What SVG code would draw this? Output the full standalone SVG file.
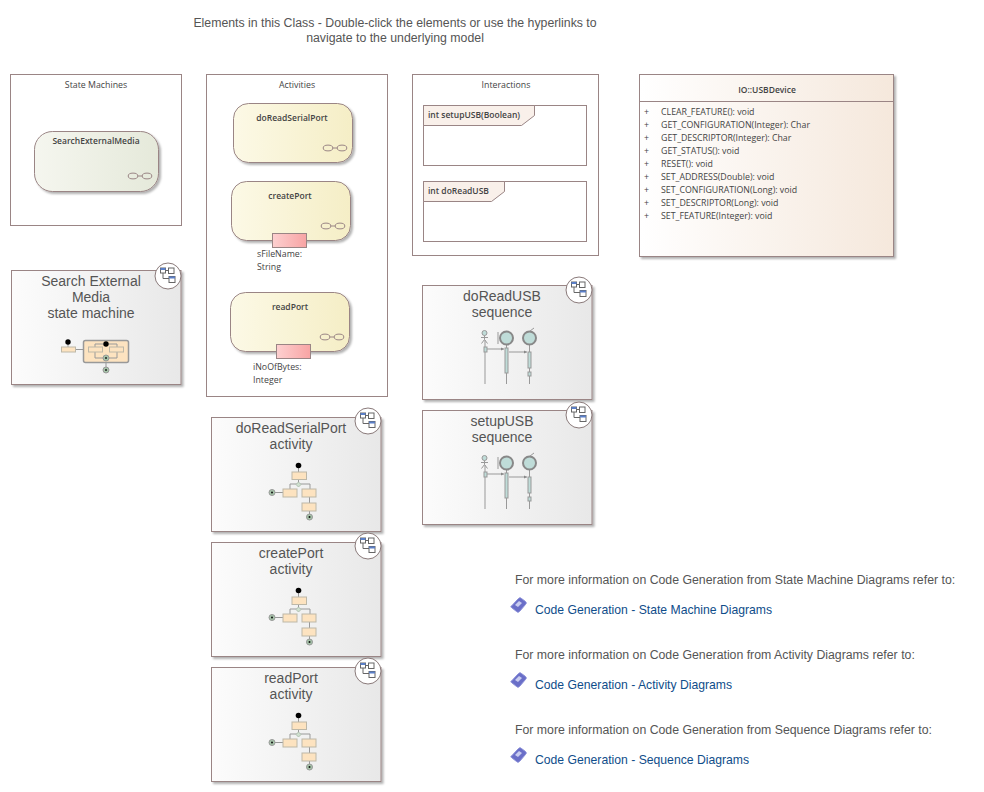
<svg xmlns="http://www.w3.org/2000/svg" width="984" height="792" viewBox="0 0 984 792">
<style>
text{font-family:"Open Sans","Noto Sans",sans-serif;fill:#444}
.f{fill:#fff;stroke:#9a8585;stroke-width:1}
.small{font-size:8.800px}
.b{font-size:8.500px;font-weight:600}
.t{font-family:"Liberation Sans",Arial,sans-serif;font-size:14px;fill:#555;text-anchor:middle}
.h{font-family:"Liberation Sans",Arial,sans-serif;font-size:12.300px;fill:#555}
.l{font-family:"Liberation Sans",Arial,sans-serif;font-size:12.200px;fill:#0f4d8a}
.m{text-anchor:middle}
.e{fill:none;stroke:#9a8585;stroke-width:1}
.thumb{fill:#fde3c0;stroke:#bdb8a8;stroke-width:1}
.ln{fill:none;stroke:#999;stroke-width:1}
.seq{fill:#bfdcd8;stroke:#999;stroke-width:1}
</style>
<defs>
<linearGradient id="gs"><stop offset="0" stop-color="#f5f6ef"/><stop offset="1" stop-color="#e5e9da"/></linearGradient>
<linearGradient id="gy"><stop offset="0" stop-color="#fcf9e6"/><stop offset="1" stop-color="#f5eec6"/></linearGradient>
<linearGradient id="gp"><stop offset="0" stop-color="#fdd0d0"/><stop offset="1" stop-color="#f8a4a4"/></linearGradient>
<linearGradient id="gc"><stop offset="0" stop-color="#fff"/><stop offset="1" stop-color="#f5e8dc"/></linearGradient>
<linearGradient id="gn"><stop offset="0" stop-color="#fcfcfc"/><stop offset="1" stop-color="#e8e8e8"/></linearGradient>
<g id="chain"><ellipse cx="5" cy="3" rx="4.800" ry="2.900" fill="none" stroke="#9a8585"/><ellipse cx="19" cy="3" rx="4.800" ry="2.900" fill="none" stroke="#9a8585"/><path d="M10 3h4" stroke="#9a8585"/></g>
<g id="link"><circle cx="0" cy="0" r="13" fill="#fff" stroke="#8a7a7a"/><path d="M-5 -3v5.500h8M-2.500 -5.500H1" fill="none" stroke="#666"/><rect x="-7.500" y="-8" width="5" height="5" fill="#fff" stroke="#666"/><rect x="-7.500" y="-8" width="5" height="2" fill="#5a7fc8"/><rect x="0.500" y="-8" width="5.500" height="5.500" fill="#fff" stroke="#666"/><rect x="1" y="0.500" width="6" height="6" fill="#fff" stroke="#666"/><rect x="1" y="0.500" width="6" height="2" fill="#5a7fc8"/></g>
<g id="act">
<path class="ln" d="M298.500 466v6M298.500 479v5M290 489v-5h20v5M309.500 497v6M275 492.500h8M309.500 511v4"/>
<rect class="thumb" x="292" y="472" width="14.500" height="7.500"/>
<path d="M298.500 482l2.500 2.500-2.500 2.500-2.500-2.500z" fill="#cfe0cf" stroke="#b0c0b0"/>
<rect class="thumb" x="283" y="489" width="14" height="8"/>
<rect class="thumb" x="302" y="489" width="14" height="8"/>
<rect class="thumb" x="302" y="503" width="14" height="8"/>
<circle cx="298.500" cy="465.500" r="2.800" fill="#000"/>
<circle cx="272" cy="492.500" r="3" fill="#a5c4a8" stroke="#999"/><circle cx="272" cy="492.500" r="1" fill="#111"/>
<circle cx="309.500" cy="517" r="3" fill="#a5c4a8" stroke="#999"/><circle cx="309.500" cy="517" r="1" fill="#111"/>
</g>
<g id="seq">
<path class="ln" d="M485 340v44M506.500 345v39M529.500 345v39M487 349h17M509 352h18"/>
<circle cx="484.500" cy="333" r="2.500" fill="#bfdcd8" stroke="#999"/>
<path class="ln" d="M484.500 335.500v4M481 337.500h7M484.500 339.500l-3 4M484.500 339.500l3 4"/>
<rect class="seq" x="484" y="347" width="3" height="5"/>
<path d="M504 349l-3-1.500v3zM527 352l-3-1.500v3z" fill="#888"/>
<circle cx="506.500" cy="338" r="6.500" fill="#bfdcd8" stroke="#888" stroke-width="2"/><path d="M498 332v12" stroke="#999"/>
<circle cx="529.500" cy="338" r="6.500" fill="#bfdcd8" stroke="#888" stroke-width="2"/><path d="M530 331l4-3" stroke="#999"/>
<rect class="seq" x="505" y="348" width="3" height="25"/>
<rect class="seq" x="528" y="352" width="3" height="16"/>
<rect class="seq" x="528" y="372" width="3" height="4"/>
</g>
<filter id="sh" x="-10%" y="-10%" width="120%" height="120%"><feDropShadow dx="2" dy="2" stdDeviation="1" flood-color="#000" flood-opacity=".3"/></filter>
<g id="doc"><path d="M511.500 606l7-7.500c1-1 2-1 3 0l4 3c1 1 1 2 0 3l-6 7c-1 1-2 1-3 0l-5-4c-1-.5-1-1 0-1.500z" fill="#6a6fc8" stroke="#8a8fd8"/><path d="M515 605l4-4 3 2-4 4z" fill="#c9cdf0"/></g>
</defs>

<text class="h" x="395" y="26.500" text-anchor="middle">Elements in this Class - Double-click the elements or use the hyperlinks to</text>
<text class="h" x="395" y="42" text-anchor="middle">navigate to the underlying model</text>

<g id="stateMachines">
<rect class="f" x="10.500" y="74.500" width="171" height="151"/>
<text class="small m" x="96" y="88">State Machines</text>
</g>
<g id="searchExternalMedia">
<rect x="34.500" y="131.500" width="124" height="60" rx="18" fill="url(#gs)" stroke="#9a8585" filter="url(#sh)"/>
<text class="b m" x="96" y="144">SearchExternalMedia</text>
<use href="#chain" x="128" y="173"/>
</g>
<g id="searchDiagram">
<rect x="11.500" y="270.500" width="169.500" height="114" fill="url(#gn)" stroke="#9a8585" filter="url(#sh)"/>
<text class="t" x="91" y="286">Search External</text>
<text class="t" x="91" y="302">Media</text>
<text class="t" x="91" y="318">state machine</text>
<path class="ln" d="M68 344v3M75.500 349.500h8M106 363v4"/>
<circle cx="68" cy="342" r="2.700" fill="#000"/>
<rect class="thumb" x="61.500" y="347" width="14" height="5"/>
<rect x="83.500" y="340.500" width="45" height="22" rx="2" fill="#fde3c0" stroke="#999" stroke-width="1.500"/>
<path class="ln" d="M95 347v-3h22v3M95 352v6h22v-6"/>
<rect class="thumb" x="88.500" y="347" width="14" height="5"/><rect class="thumb" x="109.500" y="347" width="14" height="5"/>
<circle cx="106" cy="344" r="2.700" fill="#000"/>
<circle cx="106" cy="358" r="3" fill="#a5c4a8" stroke="#999"/><circle cx="106" cy="358" r="1" fill="#222"/>
<circle cx="106" cy="370" r="3" fill="#a5c4a8" stroke="#999"/><circle cx="106" cy="370" r="1" fill="#222"/>
<use href="#link" x="168" y="276"/>
</g>

<g id="activities">
<rect class="f" x="206.500" y="74.500" width="181" height="322"/>
<text class="small m" x="297" y="88">Activities</text>
</g>
<g id="doReadSerialPort">
<rect x="233.500" y="103.500" width="119" height="59" rx="15" fill="url(#gy)" stroke="#9a8585" filter="url(#sh)"/>
<text class="b m" x="292" y="121">doReadSerialPort</text>
<use href="#chain" x="323" y="145"/>
</g>
<g id="createPort">
<rect x="231.500" y="181.500" width="119" height="59" rx="15" fill="url(#gy)" stroke="#9a8585" filter="url(#sh)"/>
<text class="b m" x="290" y="199">createPort</text>
<use href="#chain" x="321" y="223"/>
<rect x="272.500" y="233.500" width="34" height="14" fill="url(#gp)" stroke="#9a8585"/>
<text class="small" x="257" y="257">sFileName:</text>
<text class="small" x="257" y="270">String</text>
</g>
<g id="readPort">
<rect x="230.500" y="292.500" width="119" height="59" rx="15" fill="url(#gy)" stroke="#9a8585" filter="url(#sh)"/>
<text class="b m" x="290" y="310">readPort</text>
<use href="#chain" x="320" y="334"/>
<rect x="276.500" y="344.500" width="34" height="14" fill="url(#gp)" stroke="#9a8585"/>
<text class="small" x="253" y="370">iNoOfBytes:</text>
<text class="small" x="253" y="383">Integer</text>
</g>

<g id="interactions">
<rect class="f" x="412.500" y="74.500" width="186" height="181"/>
<text class="small m" x="506" y="88">Interactions</text>
</g>
<g id="setupUSB">
<rect class="f" x="423.500" y="105.500" width="163" height="60"/>
<path d="M423.500 105.500H534.500V115.500L521.500 125.500H423.500z" fill="#f9f0ea" stroke="#9a8585"/>
<text class="b" x="428" y="118">int setupUSB(Boolean)</text>
</g>
<g id="doReadUSB">
<rect class="f" x="423.500" y="181.500" width="163" height="60"/>
<path d="M423.500 181.500H504.500V191.500L491.500 201.500H423.500z" fill="#f9f0ea" stroke="#9a8585"/>
<text class="b" x="428" y="194">int doReadUSB</text>
</g>

<g id="usbDevice">
<rect x="639.500" y="74.500" width="254" height="182" fill="url(#gc)" stroke="#9a8585" filter="url(#sh)"/>
<path class="e" d="M639.500 101.500H893.500"/>
<text class="b m" x="767" y="93">IO::USBDevice</text>
<text class="small" x="644" y="115">+</text><text class="small" x="661" y="115">CLEAR_FEATURE(): void</text>
<text class="small" x="644" y="128">+</text><text class="small" x="661" y="128">GET_CONFIGURATION(Integer): Char</text>
<text class="small" x="644" y="141">+</text><text class="small" x="661" y="141">GET_DESCRIPTOR(Integer): Char</text>
<text class="small" x="644" y="154">+</text><text class="small" x="661" y="154">GET_STATUS(): void</text>
<text class="small" x="644" y="167">+</text><text class="small" x="661" y="167">RESET(): void</text>
<text class="small" x="644" y="180">+</text><text class="small" x="661" y="180">SET_ADDRESS(Double): void</text>
<text class="small" x="644" y="193">+</text><text class="small" x="661" y="193">SET_CONFIGURATION(Long): void</text>
<text class="small" x="644" y="206">+</text><text class="small" x="661" y="206">SET_DESCRIPTOR(Long): void</text>
<text class="small" x="644" y="219">+</text><text class="small" x="661" y="219">SET_FEATURE(Integer): void</text>
</g>

<g id="doReadUSBSequence">
<rect x="422.500" y="285.500" width="169.500" height="114" fill="url(#gn)" stroke="#9a8585" filter="url(#sh)"/>
<text class="t" x="502" y="301">doReadUSB</text>
<text class="t" x="502" y="317">sequence</text>
<use href="#seq"/>
<use href="#link" x="579" y="290"/>
</g>
<g id="setupUSBSequence">
<rect x="422.500" y="410.500" width="169.500" height="114" fill="url(#gn)" stroke="#9a8585" filter="url(#sh)"/>
<text class="t" x="502" y="426">setupUSB</text>
<text class="t" x="502" y="442">sequence</text>
<use href="#seq" y="125"/>
<use href="#link" x="579" y="415"/>
</g>

<g id="doReadSerialPortActivity">
<rect x="211.500" y="417.500" width="169.500" height="114" fill="url(#gn)" stroke="#9a8585" filter="url(#sh)"/>
<text class="t" x="291" y="433">doReadSerialPort</text>
<text class="t" x="291" y="449">activity</text>
<use href="#act"/>
<use href="#link" x="368" y="421"/>
</g>
<g id="createPortActivity">
<rect x="211.500" y="542.500" width="169.500" height="114" fill="url(#gn)" stroke="#9a8585" filter="url(#sh)"/>
<text class="t" x="291" y="558">createPort</text>
<text class="t" x="291" y="574">activity</text>
<use href="#act" y="125"/>
<use href="#link" x="368" y="546"/>
</g>
<g id="readPortActivity">
<rect x="211.500" y="667.500" width="169.500" height="114" fill="url(#gn)" stroke="#9a8585" filter="url(#sh)"/>
<text class="t" x="291" y="683">readPort</text>
<text class="t" x="291" y="699">activity</text>
<use href="#act" y="250"/>
<use href="#link" x="368" y="671"/>
</g>

<g id="stateNote"><text class="h" x="515" y="584">For more information on Code Generation from State Machine Diagrams refer to:</text></g>
<g id="stateLink"><use href="#doc"/><text class="l" x="535" y="614">Code Generation - State Machine Diagrams</text></g>
<g id="activityNote"><text class="h" x="515" y="659">For more information on Code Generation from Activity Diagrams refer to:</text></g>
<g id="activityLink"><use href="#doc" y="75"/><text class="l" x="535" y="689">Code Generation - Activity Diagrams</text></g>
<g id="sequenceNote"><text class="h" x="515" y="734">For more information on Code Generation from Sequence Diagrams refer to:</text></g>
<g id="sequenceLink"><use href="#doc" y="150"/><text class="l" x="535" y="764">Code Generation - Sequence Diagrams</text></g>
</svg>
